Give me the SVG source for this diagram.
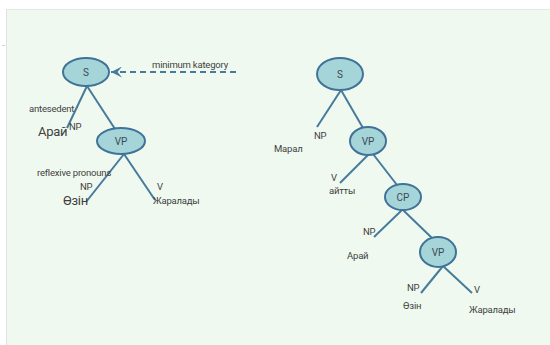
<svg xmlns="http://www.w3.org/2000/svg" width="550" height="345" viewBox="0 0 550 345">
<defs>
<style>
.bg{fill:#f0f9ef}
.node ellipse{fill:#a5d5d8;stroke:#3f7398;stroke-width:2}
.node text{font-family:Roboto,"Liberation Sans",sans-serif;font-size:10px;fill:#3a4a55;text-anchor:middle}
.edge{stroke:#467b9c;stroke-width:2;fill:none}
.lbl{font-family:Roboto,"Liberation Sans",sans-serif;font-size:9.5px;letter-spacing:-0.2px;fill:#3f3f3f}
.big{font-size:13px;letter-spacing:-0.3px}
</style>
<marker id="arr" viewBox="0 0 10 10" refX="10" refY="5" markerWidth="5.5" markerHeight="5.5" orient="auto" markerUnits="strokeWidth">
<path d="M10,5 L0,0 L4,5 L0,10 Z" fill="#467b9c"/>
</marker>
</defs>
<rect x="0" y="0" width="550" height="345" fill="#ffffff"/>
<rect class="bg" x="6" y="9" width="544" height="336"/>
<line x1="6.5" y1="9" x2="6.5" y2="345" stroke="#dde3e3" stroke-width="1"/>
<line x1="6" y1="9.5" x2="550" y2="9.5" stroke="#e3e8e8" stroke-width="1"/>
<line x1="2" y1="45.5" x2="5" y2="45.5" stroke="#d0d0d0" stroke-width="1"/>

<g id="connectors">
<line class="edge" x1="87" y1="86" x2="67" y2="128"/>
<line class="edge" x1="87" y1="86" x2="115" y2="129"/>
<line class="edge" x1="124" y1="154" x2="86" y2="202"/>
<line class="edge" x1="124" y1="154" x2="155" y2="200"/>
<line class="edge" x1="236" y1="72" x2="111" y2="72" stroke-dasharray="6,4" marker-end="url(#arr)"/>
<line class="edge" x1="341" y1="90" x2="317" y2="127"/>
<line class="edge" x1="341" y1="90" x2="363" y2="128"/>
<line class="edge" x1="368" y1="155" x2="340" y2="183"/>
<line class="edge" x1="373" y1="154" x2="397" y2="185"/>
<line class="edge" x1="402" y1="210" x2="374" y2="237"/>
<line class="edge" x1="403" y1="210" x2="432" y2="238"/>
<line class="edge" x1="443" y1="266" x2="421" y2="293"/>
<line class="edge" x1="443" y1="266" x2="472" y2="293"/>
</g>

<g id="left-S" class="node"><ellipse cx="86" cy="72" rx="23" ry="14"/><text x="86" y="76">S</text></g>
<g id="left-VP" class="node"><ellipse cx="121" cy="141" rx="24" ry="13"/><text x="121" y="145">VP</text></g>
<g id="right-S" class="node"><ellipse cx="340" cy="74" rx="23" ry="16"/><text x="340" y="78">S</text></g>
<g id="right-VP1" class="node"><ellipse cx="368" cy="141" rx="18" ry="14"/><text x="368" y="145">VP</text></g>
<g id="right-CP" class="node"><ellipse cx="403" cy="197" rx="18" ry="13"/><text x="403" y="201">CP</text></g>
<g id="right-VP2" class="node"><ellipse cx="438" cy="252" rx="18" ry="15"/><text x="438" y="256">VP</text></g>

<g id="labels">
<text class="lbl" x="152" y="68">minimum kategory</text>
<text class="lbl" x="29" y="112">antesedent</text>
<text class="lbl big" x="38" y="136">Арай</text>
<text class="lbl" x="69" y="130">NP</text>
<text class="lbl" x="37" y="176">reflexive pronouns</text>
<text class="lbl" x="80" y="190">NP</text>
<text class="lbl big" x="63" y="205">Өзін</text>
<text class="lbl" x="157" y="190">V</text>
<text class="lbl" x="153" y="204">Жаралады</text>

<text class="lbl" x="314" y="139">NP</text>
<text class="lbl" x="274" y="152">Марал</text>
<text class="lbl" x="331" y="181">V</text>
<text class="lbl" x="329" y="194">айтты</text>
<text class="lbl" x="363" y="235">NP</text>
<text class="lbl" x="347" y="259">Арай</text>
<text class="lbl" x="407" y="291">NP</text>
<text class="lbl" x="474" y="293">V</text>
<text class="lbl" x="403" y="309">Өзін</text>
<text class="lbl" x="469" y="313">Жаралады</text>
</g>
</svg>
